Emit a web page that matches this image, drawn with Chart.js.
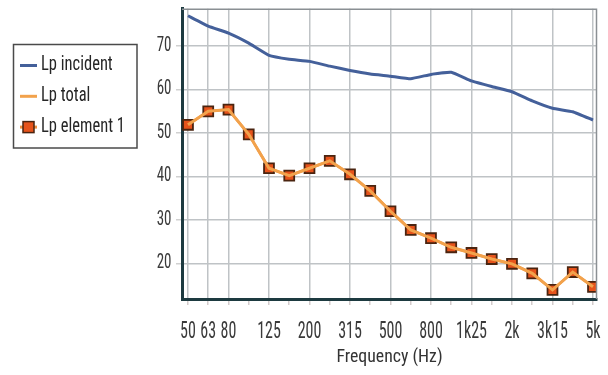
<!DOCTYPE html>
<html><head><meta charset="utf-8">
<script src="https://cdn.jsdelivr.net/npm/chart.js@4/dist/chart.umd.min.js"></script>
<style>html,body{margin:0;padding:0;background:#fff;overflow:hidden}
#wrap{position:relative;width:608px;height:375px}
</style></head><body>
<div id="wrap"><canvas id="c"></canvas></div>
<script>
const categories = ['50','63','80','100','125','160','200','250','315','400','500','630','800','1k','1k25','1k6','2k','2k5','3k15','4k','5k'];
const labeledCategories = ['50','63','80','125','200','315','500','800','1k25','2k','3k15','5k'];
const incidentValues = [77.0,74.6,73.0,70.7,67.9,67.0,66.5,65.4,64.4,63.6,63.1,62.5,63.5,64.0,62.0,60.7,59.5,57.4,55.7,54.9,53.0];
const totalValues = [51.9,55.0,55.4,49.7,41.9,40.2,41.9,43.6,40.5,36.7,32.0,27.7,25.8,23.7,22.4,21.0,19.9,17.7,13.9,18.0,14.6];
const element1Values = [51.9,55.0,55.4,49.7,41.9,40.2,41.9,43.6,40.5,36.7,32.0,27.7,25.8,23.7,22.4,21.0,19.9,17.7,13.9,18.0,14.6];
const yTickValues = [20,30,40,50,60,70];
const seriesLabels = ['Lp incident','Lp total','Lp element 1'];

const COND = '"Roboto Condensed","DejaVu Sans Condensed",sans-serif';
const toXY = arr => arr.map((v,i)=>({x:i,y:v}));

// tall, narrow tick text (the reference's labels are vertically stretched)
const TEXT_STRETCH = {x:1.5, y:1.3};
const stretchPlugin = {
  id:'stretchLabels',
  afterLayout(chart){
    ['x','y'].forEach(id=>{
      const s = chart.scales[id];
      if (!s || s._stretched) return;
      s._stretched = true;
      const orig = s.drawLabels;
      s.drawLabels = function(area){
        const ctx = this.ctx, rot = ctx.rotate, k = TEXT_STRETCH[id];
        ctx.rotate = function(a){ rot.call(this, a); this.scale(1, k); };
        try { orig.call(this, area); } finally { ctx.rotate = rot; }
      };
    });
  }
};

const framePlugin = {
  id:'frame',
  afterDraw(chart){
    const {ctx, chartArea:a} = chart;
    ctx.save();
    ctx.strokeStyle='#8a8f93'; ctx.lineWidth=1.5;
    ctx.beginPath();
    ctx.moveTo(a.left, a.top+0.5); ctx.lineTo(a.right-0.5, a.top+0.5); ctx.lineTo(a.right-0.5, a.bottom);
    ctx.stroke();
    // legend
    ctx.strokeStyle='#4a4a4a'; ctx.lineWidth=1.5;
    ctx.strokeRect(13.5,44.5,123.5,103.5);
    chart.data.datasets.forEach((ds,i)=>{
      const y = 65.5 + i*30.8;
      ctx.strokeStyle = ds.borderColor; ctx.lineWidth=3;
      ctx.beginPath(); ctx.moveTo(20,y); ctx.lineTo(37,y); ctx.stroke();
      if (ds.pointRadius>0){
        ctx.fillStyle=ds.pointBackgroundColor; ctx.strokeStyle=ds.pointBorderColor; ctx.lineWidth=1.5;
        ctx.fillRect(23,y-5.5,11,11); ctx.strokeRect(23,y-5.5,11,11);
      }
      ctx.save();
      ctx.translate(41, y); ctx.scale(1, 1.2);
      ctx.fillStyle='#262626'; ctx.font='16.5px '+COND; ctx.textBaseline='middle'; ctx.textAlign='left';
      ctx.fillText(ds.label, 0, 0);
      ctx.restore();
    });
    ctx.restore();
  }
};

new Chart(document.getElementById('c'), {
  type:'line',
  data:{datasets:[
    {label:seriesLabels[0], data:toXY(incidentValues), borderColor:'#44609a', borderWidth:3, pointRadius:0, tension:0.1},
    {label:seriesLabels[1], data:toXY(totalValues), borderColor:'#f2a24c', borderWidth:3, pointRadius:0, tension:0},
    {label:seriesLabels[2], data:toXY(element1Values), borderColor:'#ee9040', borderWidth:2.5, pointRadius:7, pointStyle:'rect',
     pointBackgroundColor:'#e6531b', pointBorderColor:'#4a2410', pointBorderWidth:1.8, tension:0}
  ]},
  options:{
    responsive:true, maintainAspectRatio:false, animation:false,
    layout:{padding:{left:0,right:11,top:5,bottom:0}},
    plugins:{legend:{display:false}, tooltip:{enabled:false}},
    scales:{
      x:{type:'linear', min:-0.296, max:20.198,
        afterBuildTicks(s){ s.ticks = categories.map((c,i)=>({value:i})); },
        afterFit(s){ s.height = 76; s.paddingLeft = 0; s.paddingRight = 0; },
        ticks:{autoSkip:false, maxRotation:0, padding:12.5, color:'#3a3a3a', font:{family:COND,size:16},
          callback:v=> labeledCategories.includes(categories[v]) ? categories[v] : ''},
        grid:{color:c=> (c.tick && labeledCategories.includes(categories[c.tick.value])) ? '#bfc3c6' : 'rgba(0,0,0,0)',
          lineWidth:1.5, tickLength:6, tickColor:'#d4cccc'},
        border:{color:'#1d3a40', width:3},
        title:{display:true, text:'Frequency (Hz)', color:'#333', font:{family:COND,size:17.8}, padding:{top:0,bottom:6.5}}
      },
      y:{type:'linear', min:11.8, max:78.6,
        afterBuildTicks(s){ s.ticks = yTickValues.map(v=>({value:v})); },
        afterFit(s){ s.width = 182; s.paddingTop = 0; s.paddingBottom = 0; },
        ticks:{padding:4.5, color:'#3a3a3a', font:{family:COND,size:15}},
        grid:{color:'#bfc3c6', lineWidth:1.5, tickLength:6, tickColor:'#d0d0d0'},
        border:{color:'#1d3a40', width:3}
      }
    }
  },
  plugins:[stretchPlugin, framePlugin]
});
</script></body></html>
